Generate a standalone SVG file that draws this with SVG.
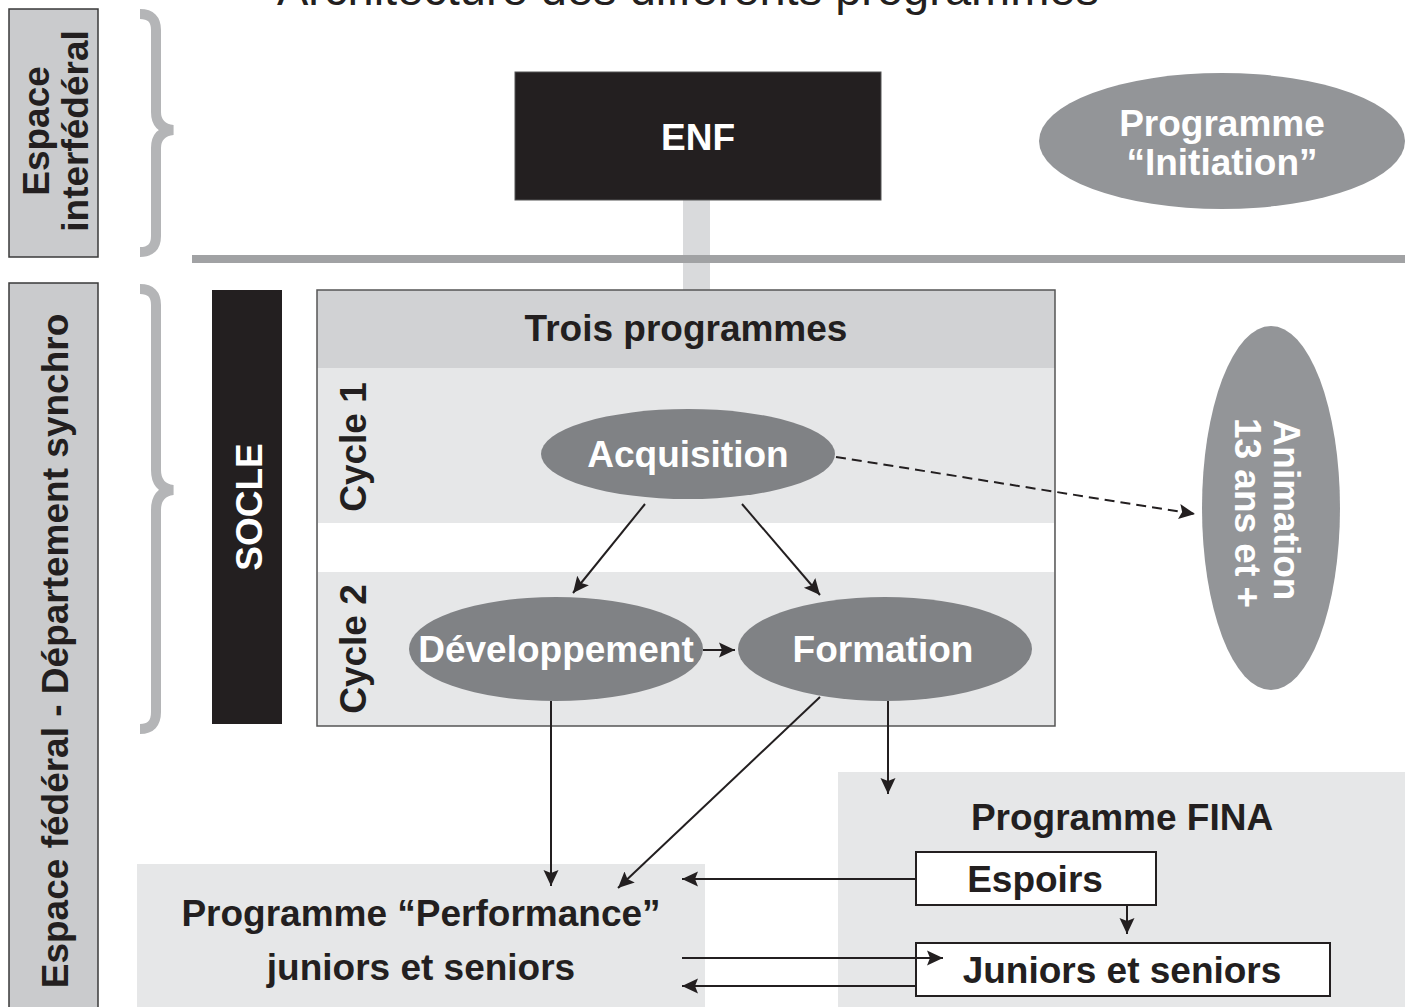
<svg xmlns="http://www.w3.org/2000/svg" width="1413" height="1007" viewBox="0 0 1413 1007">
<defs>
<style>
text{font-family:"Liberation Sans",Arial,sans-serif;font-weight:bold;font-size:37px;text-anchor:middle}
.dk{fill:#231f20}
.wt{fill:#ffffff}
.lbl{fill:#cacbcd;stroke:#3a3a3a;stroke-width:1.5}
.brace{fill:none;stroke:#b4b5b7;stroke-width:10;stroke-linecap:butt}
.ln{fill:none;stroke:#231f20;stroke-width:2}
.ell{fill:#808285}
.ell2{fill:#939598}
.bx{fill:#ffffff;stroke:#231f20;stroke-width:2}
</style>
<marker id="ah" markerUnits="userSpaceOnUse" markerWidth="18" markerHeight="18" refX="16" refY="9" orient="auto">
<path d="M0,1.5 L16,9 L0,16.5 L3,9 z" fill="#231f20"/>
</marker>
</defs>
<rect width="1413" height="1007" fill="#ffffff"/>
<text id="title" x="688" y="5" style="font-weight:normal;font-size:47px" class="dk">Architecture des différents programmes</text>

<g id="label-interfederal">
<rect class="lbl" x="9" y="9" width="89" height="248"/>
<text class="dk" transform="translate(49,131) rotate(-90)">Espace</text>
<text class="dk" transform="translate(88,131) rotate(-90)">interfédéral</text>
</g>
<g id="label-federal">
<rect class="lbl" x="9" y="283" width="89" height="730"/>
<text class="dk" transform="translate(68,651) rotate(-90)">Espace fédéral - Département synchro</text>
</g>
<g id="braces">
<path class="brace" d="M140,14 Q156,14 156,30 L156,112 Q156,128 173,130 Q156,132 156,148 L156,236 Q156,252 140,252"/>
<path class="brace" d="M140,289 Q156,289 156,305 L156,470 Q156,488 173,490 Q156,492 156,510 L156,712 Q156,729 140,729"/>
</g>
<g id="divider">
<rect x="683" y="200" width="27" height="90" fill="#d9dadc"/>
<rect x="192" y="255" width="1213" height="8" fill="#a1a2a4"/>
</g>

<g id="enf">
<rect x="515" y="72" width="366" height="128" class="dk" stroke="#555" stroke-width="1"/>
<text class="wt" x="698" y="150">ENF</text>
</g>
<g id="initiation">
<ellipse class="ell2" cx="1222" cy="141" rx="183" ry="68"/>
<text class="wt" x="1222" y="136">Programme</text>
<text class="wt" x="1222" y="175">“Initiation”</text>
</g>

<g id="socle">
<rect x="212" y="290" width="70" height="434" class="dk"/>
<text class="wt" transform="translate(262,507) rotate(-90)">SOCLE</text>
</g>

<g id="trois-programmes">
<rect x="317" y="290" width="738" height="436" fill="#e6e7e8"/>
<rect x="317" y="290" width="738" height="78" fill="#d1d2d4"/>
<rect x="318" y="523" width="736" height="49" fill="#ffffff"/>
<rect x="317" y="290" width="738" height="436" fill="none" stroke="#555" stroke-width="1.5"/>
<text class="dk" x="686" y="341">Trois programmes</text>
<text class="dk" transform="translate(366,447) rotate(-90)">Cycle 1</text>
<text class="dk" transform="translate(366,649) rotate(-90)">Cycle 2</text>
</g>

<g id="acquisition">
<ellipse class="ell" cx="688" cy="454" rx="147" ry="45"/>
<text class="wt" x="688" y="467">Acquisition</text>
</g>
<g id="developpement">
<ellipse class="ell" cx="556" cy="649" rx="147" ry="52"/>
<text class="wt" x="556" y="662">Développement</text>
</g>
<g id="formation">
<ellipse class="ell" cx="885" cy="649" rx="147" ry="52"/>
<text class="wt" x="883" y="662">Formation</text>
</g>

<g id="animation">
<ellipse class="ell2" cx="1271" cy="508" rx="69" ry="182"/>
<text class="wt" transform="translate(1274,510) rotate(90)">Animation</text>
<text class="wt" transform="translate(1235,513) rotate(90)">13 ans et +</text>
</g>

<g id="fina">
<rect x="838" y="772" width="567" height="240" fill="#e6e7e8"/>
<text class="dk" x="1122" y="830">Programme FINA</text>
</g>
<g id="espoirs">
<rect class="bx" x="916" y="852" width="240" height="53"/>
<text class="dk" x="1035" y="892">Espoirs</text>
</g>
<g id="juniors-seniors">
<rect class="bx" x="916" y="943" width="414" height="53"/>
<text class="dk" x="1122" y="983">Juniors et seniors</text>
</g>
<g id="performance">
<rect x="137" y="864" width="568" height="150" fill="#e6e7e8"/>
<text class="dk" x="421" y="926">Programme “Performance”</text>
<text class="dk" x="421" y="980">juniors et seniors</text>
</g>

<g id="connectors">
<line class="ln" x1="645" y1="504" x2="573" y2="593" marker-end="url(#ah)"/>
<line class="ln" x1="742" y1="504" x2="820" y2="595" marker-end="url(#ah)"/>
<line class="ln" x1="703" y1="650" x2="735" y2="650" marker-end="url(#ah)"/>
<line class="ln" x1="836" y1="457" x2="1195" y2="514" stroke-width="2.5" stroke-dasharray="10 6" marker-end="url(#ah)"/>
<line class="ln" x1="551" y1="701" x2="551" y2="886" marker-end="url(#ah)"/>
<line class="ln" x1="820" y1="697" x2="618" y2="888" marker-end="url(#ah)"/>
<line class="ln" x1="888" y1="701" x2="888" y2="794" marker-end="url(#ah)"/>
<line class="ln" x1="916" y1="879" x2="682" y2="879" marker-end="url(#ah)"/>
<line class="ln" x1="1127" y1="905" x2="1127" y2="934" marker-end="url(#ah)"/>
<line class="ln" x1="682" y1="958" x2="943" y2="958" marker-end="url(#ah)"/>
<line class="ln" x1="916" y1="986" x2="682" y2="986" marker-end="url(#ah)"/>
</g>
</svg>
